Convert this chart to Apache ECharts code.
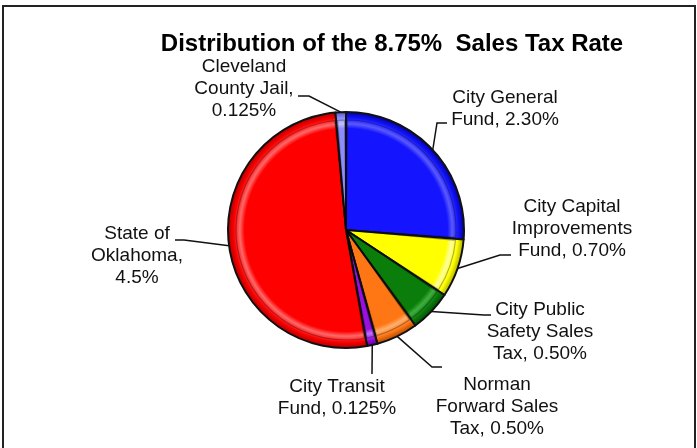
<!DOCTYPE html>
<html>
<head>
<meta charset="utf-8">
<script src="https://cdn.jsdelivr.net/npm/echarts@6/dist/echarts.min.js"></script>
<style>
  html, body { margin: 0; padding: 0; background: #fff; }
  #main { width: 697px; height: 448px; }
</style>
</head>
<body>
<div id="main"></div>
<script>
// slices, clockwise from 12 o'clock
var categories = ['City General Fund', 'City Capital Improvements Fund', 'City Public Safety Sales Tax',
  'Norman Forward Sales Tax', 'City Transit Fund', 'State of Oklahoma', 'Cleveland County Jail']
var rates = [2.30, 0.70, 0.50, 0.50, 0.125, 4.5, 0.125]
var labelTexts = ['City General\nFund, 2.30%', 'City Capital\nImprovements\nFund, 0.70%',
  'City Public\nSafety Sales\nTax, 0.50%', 'Norman\nForward Sales\nTax, 0.50%',
  'City Transit\nFund, 0.125%', 'State of\nOklahoma,\n4.5%', 'Cleveland\nCounty Jail,\n0.125%']

// [base, rim highlight, rim shadow]
var palette = [
  ['#1414ff', '#5a5aff', '#0000a8'],
  ['#ffff00', '#ffffa0', '#b0b000'],
  ['#0a7d0a', '#3fae3f', '#045004'],
  ['#ff7614', '#ffb070', '#b04a00'],
  ['#9a10e0', '#c070ff', '#600090'],
  ['#ff0000', '#ff6a6a', '#b00000'],
  ['#8c8cff', '#c0c0ff', '#5a5ac0']
]

var cx = 346, cy = 230, R = 118

// label centre and leader line bend/end
var labelPos = [
  { x: 505, y: 109, line: [[437, 123], [447, 123]] },
  { x: 572, y: 229, line: [[500, 255], [511, 255]] },
  { x: 540, y: 332, line: [[484, 315], [491, 315]] },
  { x: 497, y: 407, line: [[432, 367], [442, 367]] },
  { x: 337, y: 398, line: [[372, 374]] },
  { x: 137, y: 256, line: [[184, 240], [175, 240]] },
  { x: 244, y: 89, line: [[309, 96], [298, 96]] }
]

function rimFill(c) {
  return {
    type: 'radial', x: cx, y: cy, r: R, global: true,
    colorStops: [
      { offset: 0, color: c[0] },
      { offset: 0.86, color: c[0] },
      { offset: 0.9, color: c[1] },
      { offset: 0.95, color: c[0] },
      { offset: 1, color: c[2] }
    ]
  }
}

var chart = echarts.init(document.getElementById('main'))

chart.setOption({
  animation: false,
  title: {
    text: 'Distribution of the 8.75%  Sales Tax Rate',
    left: 387,
    top: 27,
    textAlign: 'center',
    textStyle: {
      fontFamily: 'Liberation Sans',
      fontWeight: 'bold',
      fontSize: 24,
      color: '#000'
    }
  },
  graphic: [{
    type: 'rect',
    shape: { x: 3, y: 6, width: 692, height: 470 },
    style: { fill: 'none', stroke: '#222', lineWidth: 2 },
    silent: true
  }],
  series: [{
    type: 'pie',
    center: [cx, cy],
    radius: R,
    startAngle: 90,
    clockwise: true,
    avoidLabelOverlap: false,
    data: rates.map(function (v, i) {
      return {
        name: categories[i],
        value: v,
        itemStyle: { color: rimFill(palette[i]) }
      }
    }),
    itemStyle: { borderColor: '#111', borderWidth: 2 },
    label: {
      show: true,
      formatter: function (p) { return labelTexts[p.dataIndex] },
      fontFamily: 'Liberation Sans',
      fontSize: 19,
      lineHeight: 22,
      color: '#111'
    },
    labelLine: {
      show: true,
      lineStyle: { color: '#111', width: 1.5 }
    },
    labelLayout: function (params) {
      var lp = labelPos[params.dataIndex]
      var res = { x: lp.x, y: lp.y, align: 'center', verticalAlign: 'middle' }
      if (params.labelLinePoints && params.labelLinePoints[0]) {
        res.labelLinePoints = [params.labelLinePoints[0]].concat(lp.line)
      }
      return res
    }
  }, {
    // inset bevel outline
    type: 'pie',
    center: [cx, cy],
    radius: R - 8,
    startAngle: 90,
    clockwise: true,
    padAngle: 1.5,
    silent: true,
    label: { show: false },
    labelLine: { show: false },
    data: rates.map(function (v, i) { return { name: categories[i], value: v } }),
    itemStyle: { color: 'rgba(0,0,0,0)', borderColor: 'rgba(0,0,0,0.3)', borderWidth: 1.2 }
  }]
})
</script>
</body>
</html>
